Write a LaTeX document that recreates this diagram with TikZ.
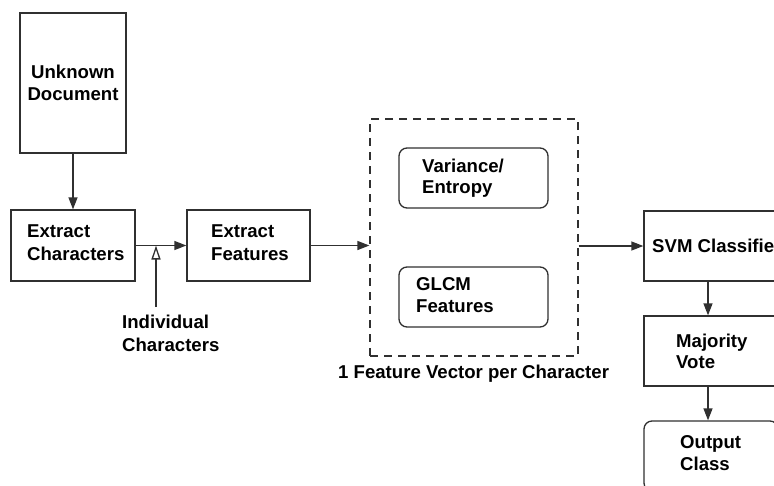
\documentclass[tikz,border=0pt]{standalone}
\usepackage{fontspec}
\setmainfont{Liberation Sans}
\usetikzlibrary{arrows.meta}
\definecolor{ink}{HTML}{303030}
\begin{document}
\begin{tikzpicture}[x=1pt,y=-1pt,
  box/.style={draw=ink,line width=1.3pt,inner sep=0pt},
  rbox/.style={box,rounded corners=8pt},
  dbox/.style={draw=ink,line width=1.2pt,dash pattern=on 8pt off 6pt,inner sep=0pt},
  lbl/.style={font=\bfseries\fontsize{18.6}{22}\selectfont,text=black,inner sep=0pt,anchor=base west},
  conn/.style={draw=ink,line width=1.3pt,-{Triangle[length=12pt,width=9pt]}},
  oconn/.style={draw=ink,line width=1.3pt,-{Triangle[open,length=14pt,width=9pt]}}]
\useasboundingbox (0,0) rectangle (774,485);
\clip (0,0) rectangle (774,485);
% boxes
\node[box,minimum width=106pt,minimum height=140pt] (ud) at (73,83) {};
\node[box,minimum width=124pt,minimum height=71pt] (ec) at (73,245.5) {};
\node[box,minimum width=123pt,minimum height=71pt] (ef) at (248.5,245.5) {};
\node[dbox,minimum width=208pt,minimum height=237pt] (fv) at (474,237.5) {};
\node[rbox,minimum width=149pt,minimum height=60pt] (ve) at (473.5,178) {};
\node[rbox,minimum width=149pt,minimum height=60pt] (gl) at (473.5,297) {};
\node[box,minimum width=156pt,minimum height=70pt] (svm) at (722,246) {};
\node[box,minimum width=156pt,minimum height=70pt] (mv) at (722,351) {};
\node[rbox,minimum width=134pt,minimum height=70pt] (oc) at (711,456) {};
% texts
\node[lbl,anchor=base] (t1) at (73,78) {Unknown};
\node[lbl,anchor=base] (t2) at (73,100) {Document};
\node[lbl] (t3) at (27,237) {Extract};
\node[lbl] (t4) at (27,260) {Characters};
\node[lbl] (t5) at (211,237) {Extract};
\node[lbl] (t6) at (211,260) {Features};
\node[lbl] (t7) at (122,328) {Individual};
\node[lbl] (t8) at (122,351) {Characters};
\node[lbl] (t9) at (422,172) {Variance/};
\node[lbl] (t10) at (422,193) {Entropy};
\node[lbl] (t11) at (416,290) {GLCM};
\node[lbl] (t12) at (416,312) {Features};
\node[lbl] (t13) at (338,378) {1 Feature Vector per Character};
\node[lbl] (t14) at (652,252) {SVM Classifier};
\node[lbl] (t15) at (676,347) {Majority};
\node[lbl] (t16) at (676,368) {Vote};
\node[lbl] (t17) at (680,448) {Output};
\node[lbl] (t18) at (680,470) {Class};
% connectors
\coordinate (ic) at (156,307);
\coordinate (icj) at (156,245.5);
\draw[conn] (ud.south) -- (ec.north);
\draw[conn] (ec.east) -- (ef.west);
\draw[oconn] (ic) -- (icj);
\draw[conn] (ef.east) -- (fv.west |- ef.east);
\draw[conn] (fv.east |- svm.west) -- (svm.west);
\draw[conn] (svm.south -| 708,0) -- (mv.north -| 708,0);
\draw[conn] (mv.south -| 708,0) -- (oc.north -| 708,0);
\end{tikzpicture}
\end{document}
